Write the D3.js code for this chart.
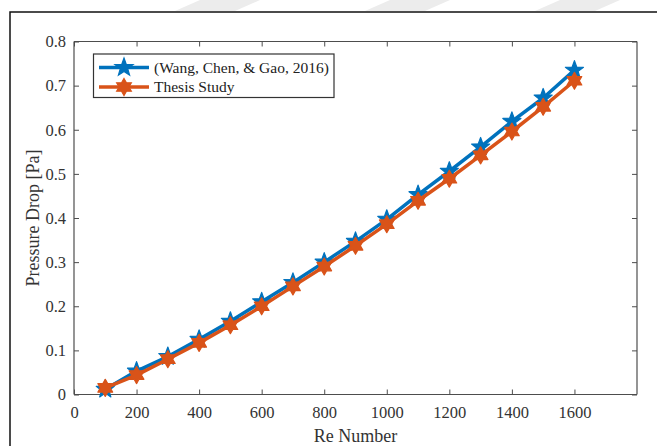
<!DOCTYPE html>
<html><head><meta charset="utf-8">
<script src="https://cdn.jsdelivr.net/npm/d3@7/dist/d3.min.js"></script>
<style>html,body{margin:0;padding:0;background:#fff;}svg{display:block;}</style>
</head><body>
<svg id="chart" width="657" height="446"></svg>
<script>
const reNumbers = [100,200,300,400,500,600,700,800,900,1000,1100,1200,1300,1400,1500,1600];
const wangValues = [0.012,0.053,0.086,0.125,0.166,0.210,0.254,0.300,0.347,0.397,0.453,0.506,0.561,0.619,0.672,0.735];
const thesisValues = [0.015,0.044,0.080,0.117,0.157,0.200,0.245,0.290,0.337,0.386,0.439,0.489,0.542,0.596,0.652,0.711];
const xTicks = [0,200,400,600,800,1000,1200,1400,1600];
const yTicks = [0,0.1,0.2,0.3,0.4,0.5,0.6,0.7,0.8];
const seriesNames = ["(Wang, Chen, & Gao, 2016)", "Thesis Study"];

const svg = d3.select("#chart");
const font = "'Liberation Serif','Times New Roman',serif";
const m = {l:74, r:637, t:41.5, b:394.5};
const x = d3.scaleLinear().domain([0,1800]).range([m.l,m.r]);
const y = d3.scaleLinear().domain([0,0.8]).range([m.b,m.t]);

// faint watermark at top
const wm = svg.append("g").attr("fill","#ececec");
[[200,0,260,0,235,11,175,11],[390,0,450,0,425,11,365,11],[560,0,620,0,595,11,535,11]].forEach(p=>{
  wm.append("polygon").attr("points",[[p[0],p[1]],[p[2],p[3]],[p[4],p[5]],[p[6],p[7]]].map(d=>d.join(",")).join(" "));
});

// outer frame
svg.append("rect").attr("x",10).attr("y",12).attr("width",700).attr("height",500)
  .attr("fill","#fff").attr("stroke","#111").attr("stroke-width",1.5);

const axColor = "#4d4d4d";
const gx = svg.append("g").attr("transform",`translate(0,${m.b})`)
  .call(d3.axisBottom(x).tickValues(xTicks).tickSize(-5).tickPadding(12).tickFormat(d3.format("d")));
const gxt = svg.append("g").attr("transform",`translate(0,${m.t})`)
  .call(d3.axisTop(x).tickValues(xTicks).tickSize(-5).tickFormat(""));
const gy = svg.append("g").attr("transform",`translate(${m.l},0)`)
  .call(d3.axisLeft(y).tickValues(yTicks).tickSize(-5).tickPadding(8).tickFormat(d=>d===0?"0":d3.format(".1f")(d)));
const gyr = svg.append("g").attr("transform",`translate(${m.r},0)`)
  .call(d3.axisRight(y).tickValues(yTicks).tickSize(-5).tickFormat(""));
[gx,gxt,gy,gyr].forEach(g=>{
  g.attr("font-family",font);
  g.select(".domain").attr("stroke",axColor).attr("stroke-width",1.2);
  g.selectAll(".tick line").attr("stroke",axColor).attr("stroke-width",1);
  g.selectAll(".tick text").attr("fill","#333").style("font-family",font).style("font-size","16.5px");
});
gx.selectAll(".tick text").attr("dy","0.71em");
gx.select(".domain").attr("d",`M${m.l},0H${m.r}`);
gxt.select(".domain").attr("d",`M${m.l},0H${m.r}`);
gy.select(".domain").attr("d",`M0,${m.b}V${m.t}`);
gyr.select(".domain").attr("d",`M0,${m.b}V${m.t}`);

svg.append("text").attr("x",(m.l+m.r)/2).attr("y",442).attr("text-anchor","middle")
  .attr("fill","#333").style("font-family",font).style("font-size","18px").text("Re Number");
svg.append("text").attr("transform",`translate(39,${(m.t+m.b)/2}) rotate(-90)`).attr("text-anchor","middle")
  .attr("fill","#333").style("font-family",font).style("font-size","18px").text("Pressure Drop [Pa]");

function starPath(n, R, r, rot){
  const pts=[];
  for(let i=0;i<2*n;i++){
    const a = rot + i*Math.PI/n;
    const rad = i%2===0?R:r;
    pts.push([rad*Math.sin(a), -rad*Math.cos(a)]);
  }
  return "M"+pts.map(p=>p[0].toFixed(2)+","+p[1].toFixed(2)).join("L")+"Z";
}
const penta = starPath(5, 9.5, 3.9, 0);
const hexa = starPath(6, 8.5, 4.9, 0);

const blue = "#0072BD", orange = "#D95319";
const line = d3.line().x(d=>x(d[0])).y(d=>y(d[1]));
const series = [
  {name:seriesNames[0], vals:wangValues, color:blue, marker:penta},
  {name:seriesNames[1], vals:thesisValues, color:orange, marker:hexa}
];
series.forEach(s=>{
  const data = reNumbers.map((r,i)=>[r,s.vals[i]]);
  svg.append("path").datum(data).attr("d",line).attr("fill","none")
    .attr("stroke",s.color).attr("stroke-width",3.5).attr("stroke-linejoin","round");
  svg.append("g").selectAll("path").data(data).join("path")
    .attr("transform",d=>`translate(${x(d[0])},${y(d[1])})`).attr("d",s.marker)
    .attr("fill",s.color).attr("stroke",s.color).attr("stroke-width",1.2).attr("stroke-linejoin","round");
});

const lg = svg.append("g");
lg.append("rect").attr("x",93.5).attr("y",54).attr("width",240.5).attr("height",43.5)
  .attr("fill","#fff").attr("stroke","#333").attr("stroke-width",1.2);
series.forEach((s,i)=>{
  const cy = 67.5 + i*19.5;
  lg.append("line").attr("x1",99).attr("x2",149).attr("y1",cy).attr("y2",cy)
    .attr("stroke",s.color).attr("stroke-width",3.5);
  lg.append("path").attr("transform",`translate(124,${cy})`).attr("d",s.marker)
    .attr("fill",s.color).attr("stroke",s.color).attr("stroke-width",1.2);
  lg.append("text").attr("x",154).attr("y",cy).attr("dy","0.35em").attr("fill","#222")
    .style("font-family",font).style("font-size","15.5px").text(s.name);
});
</script>
</body></html>
